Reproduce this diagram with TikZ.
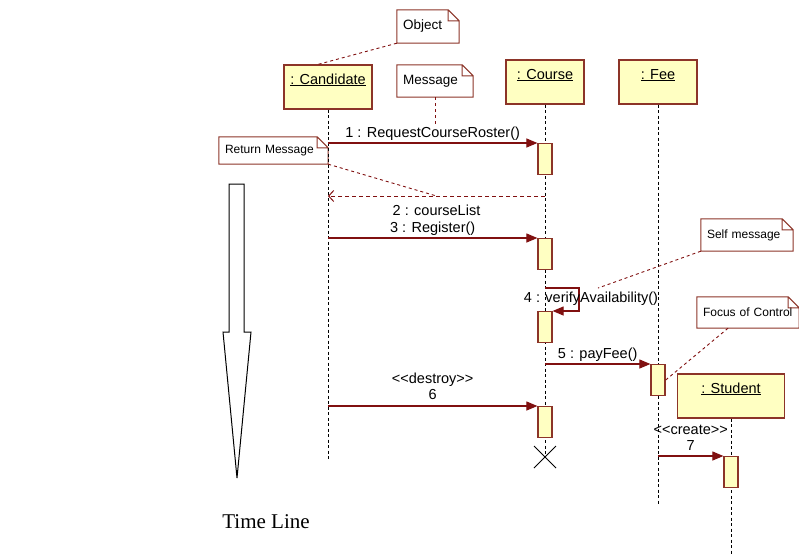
\documentclass[tikz,border=0pt]{standalone}
\usepackage{fontspec}
\setmainfont{Liberation Sans}
\newfontfamily\timefont{Liberation Serif}
\usetikzlibrary{arrows.meta}
\definecolor{umlfill}{RGB}{255,255,194}
\definecolor{umlline}{RGB}{128,16,16}
\definecolor{umlbox}{RGB}{140,52,40}
\tikzset{
  obj/.style={draw=umlbox,fill=umlfill,line width=1.2pt,inner ysep=4pt,text height=15pt,text depth=21pt,font=\fontsize{14.5}{16}\selectfont},
  act/.style={draw=umlbox,fill=umlfill,line width=1.2pt,minimum width=14pt,minimum height=31pt,inner sep=0pt,anchor=north},
  life/.style={dash pattern=on 3pt off 2.5pt,line width=0.9pt},
  msg/.style={draw=umlline,line width=1.1pt,-{Triangle[length=11pt,width=9pt]}},
  ret/.style={draw=umlline,line width=1pt,dash pattern=on 4pt off 3pt,-{Straight Barb[length=5pt,width=11pt]}},
  note/.style={fill=white,inner xsep=6pt,inner ysep=0pt,align=left,font=\fontsize{13.5}{15}\selectfont},
  smallnote/.style={note,font=\fontsize{12}{14}\selectfont},
  hint/.style={draw=umlline,line width=0.9pt,dash pattern=on 3pt off 3pt},
  lbl/.style={font=\fontsize{14.5}{16}\selectfont,inner sep=2pt,align=center}
}
\begin{document}
\begin{tikzpicture}[x=1pt,y=-1pt]
  \useasboundingbox (0,0) rectangle (799,555);

  \node[obj,minimum width=88pt] (cand) at (328,87) {\underline{: Candidate}};
  \node[obj,minimum width=78pt] (course) at (545,82) {\underline{: Course}};
  \node[obj,minimum width=78pt] (fee) at (658,82) {\underline{: Fee}};
  \node[obj,minimum width=107pt] (stud) at (731,396) {\underline{: Student}};

  \node[note,text width=50pt,minimum height=33pt] (objnote) at (428,26.5) {Object};
  \node[note,text width=64pt,minimum height=32pt] (msgnote) at (435,81) {Message};
  \node[smallnote,text width=97pt,minimum height=27pt] (retnote) at (273.5,150.5) {Return Message};
  \node[smallnote,text width=80pt,minimum height=32pt] (selfnote) at (747,235) {Self message};
  \node[smallnote,text width=90pt,minimum height=31pt] (focnote) at (748,312.5) {Focus of Control};
  \foreach \n in {objnote,msgnote,retnote,selfnote,focnote}
    \draw[umlbox,line width=1pt] (\n.north west) -- ([xshift=-11pt]\n.north east) -- ([yshift=-11pt]\n.north east)
      -- (\n.south east) -- (\n.south west) -- cycle
      ([xshift=-11pt]\n.north east) |- ([yshift=-11pt]\n.north east);

  \coordinate (kill) at (545,457);
  \draw[life] (cand.south) -- ++(0,351);
  \draw[life] (course.south) -- (kill);
  \draw[life] (fee.south) -- ++(0,400);
  \draw[life] (stud.south) -- ++(0,137);
  \draw[line width=0.8pt] ([shift={(-11,-11)}]kill) -- ([shift={(11,11)}]kill)
    ([shift={(-11,11)}]kill) -- ([shift={(11,-11)}]kill);

  \node[act] (act1) at (545,143) {};
  \node[act] (act3) at (545,238) {};
  \node[act] (act4) at (545,311) {};
  \node[act] (act6) at (545,406) {};
  \node[act] (act5) at (658,364) {};
  \node[act] (act7) at (731,456) {};

  \draw[msg] (cand |- act1.north) -- node[lbl,above] (m1) {1 : RequestCourseRoster()} (act1.north west);
  \coordinate (r2) at (545,196);
  \draw[ret] (r2) -- coordinate[midway] (r2mid) node[lbl,below=6pt] {2 : courseList} (cand |- r2);
  \draw[msg] (cand |- act3.north) -- node[lbl,above] {3 : Register()} (act3.north west);
  \coordinate (s4) at (545,288);
  \draw[msg] (s4) -- ++(34,0) |- (act4.north east);
  \node[lbl] (m4) at (591,299) {4 : verifyAvailability()};
  \draw[msg] (course |- act5.north) -- node[lbl,above] {5 : payFee()} (act5.north west);
  \draw[msg] (cand |- act6.north) -- node[lbl,above=4pt] {<\kern0pt<destroy>\kern0pt>\\6} (act6.north west);
  \draw[msg] (fee |- act7.north) -- node[lbl,above=3pt] {<\kern0pt<create>\kern0pt>\\7} (act7.north west);

  \draw[hint] (objnote.south west) -- ([xshift=-10pt]cand.north);
  \draw[hint] (msgnote.south) -- (msgnote.south |- m1.north);
  \draw[hint] (retnote.south east) -- (r2mid);
  \draw[hint] (selfnote.south west) -- ([xshift=7pt,yshift=2pt]m4.north);
  \draw[hint] ([xshift=-20pt]focnote.south) -- (act5.east);

  \draw[line width=1pt] (229,184) -- (244,184) -- (244,332) -- (251,332) -- (237,478)
    -- (223,332) -- (229,332) -- cycle;
  \node[font=\timefont\fontsize{21}{24}\selectfont] (tline) at (266,522) {Time Line};
\end{tikzpicture}
\end{document}
